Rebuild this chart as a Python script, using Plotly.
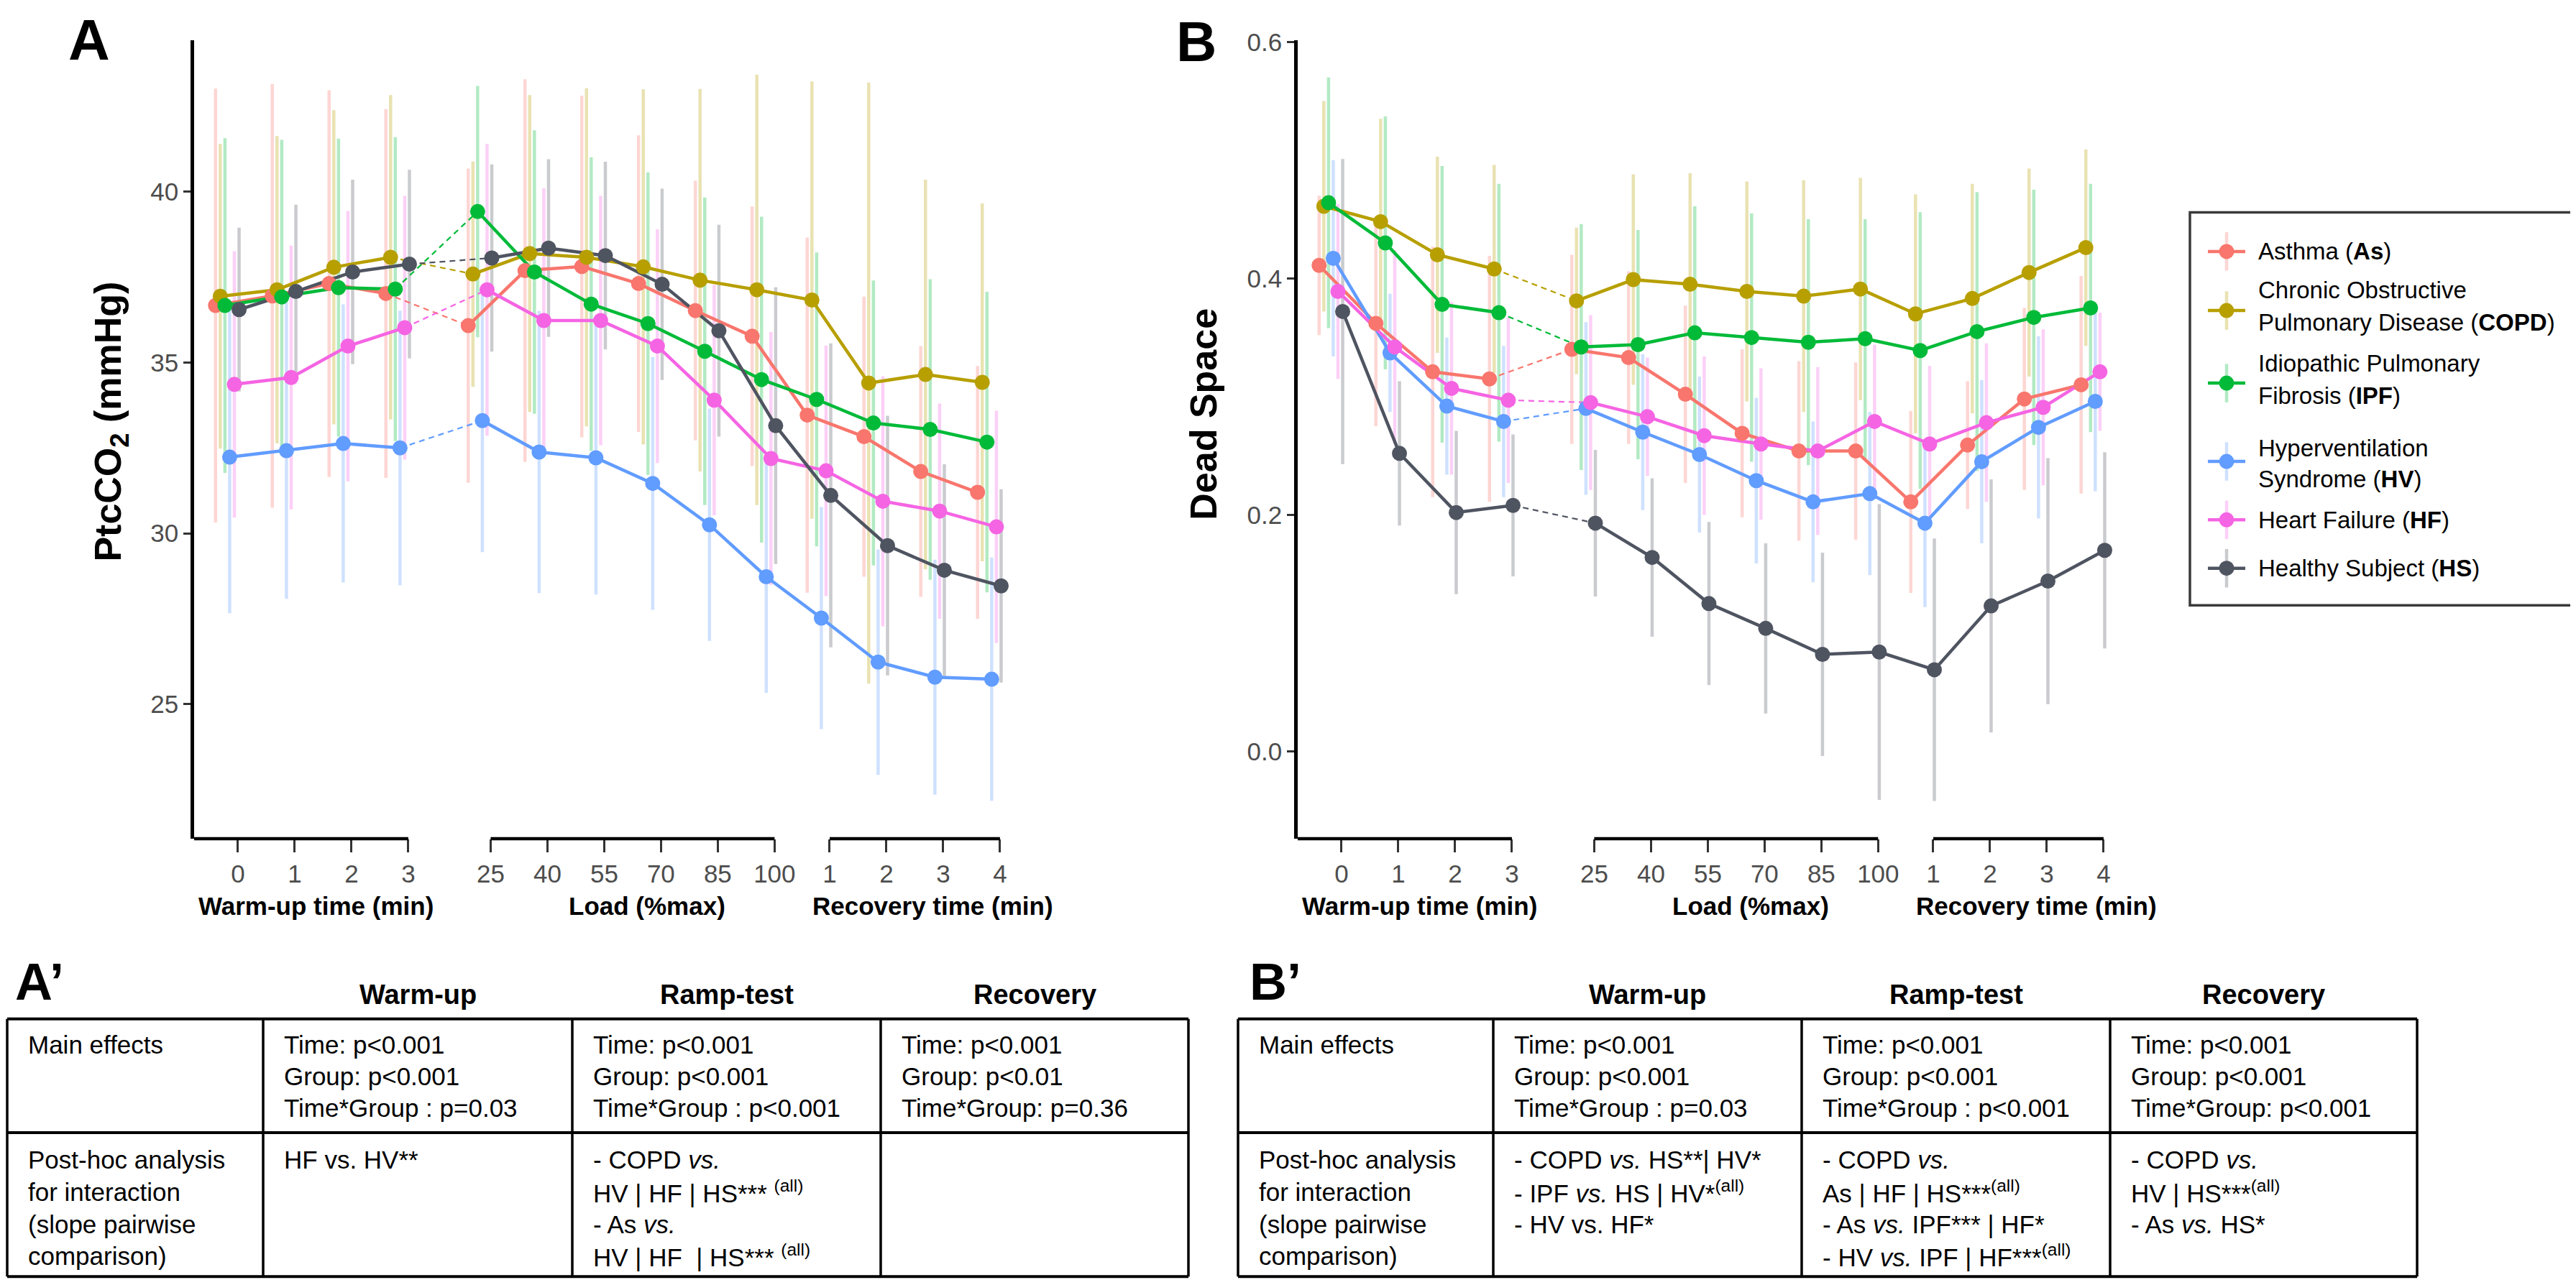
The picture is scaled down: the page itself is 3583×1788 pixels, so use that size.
import plotly.graph_objects as go

W, H = 3583, 1788
FONT = "Liberation Sans, Arial, sans-serif"

# ---------------- data ----------------
group_abbr = ["As", "COPD", "IPF", "HV", "HF", "HS"]
group_colors = ["#F8766D", "#B79F00", "#00BA38", "#619CFF", "#F564E3", "#4F5461"]
legend_lines = [
    ["Asthma (<b>As</b>)"],
    ["Chronic Obstructive", "Pulmonary Disease (<b>COPD</b>)"],
    ["Idiopathic Pulmonary", "Fibrosis (<b>IPF</b>)"],
    ["Hyperventilation", "Syndrome (<b>HV</b>)"],
    ["Heart Failure (<b>HF</b>)"],
    ["Healthy Subject (<b>HS</b>)"],
]

warm_labels = ["0", "1", "2", "3"]
load_labels = ["25", "40", "55", "70", "85", "100"]
rec_labels = ["1", "2", "3", "4"]
phase_titles = ["Warm-up time (min)", "Load (%max)", "Recovery time (min)"]

# Panel A: PtcCO2 (mmHg), mean and SD (warm-up 0-3, load 25-100, recovery 1-4)
ptc_as = [36.67, 36.95, 37.31, 37.02, 36.08, 37.69, 37.81, 37.31, 36.52, 35.77, 33.46, 32.83, 31.81, 31.20]
ptc_copd = [36.94, 37.13, 37.79, 38.08, 37.59, 38.19, 38.08, 37.80, 37.41, 37.13, 36.83, 34.40, 34.65, 34.42]
ptc_ipf = [36.67, 36.92, 37.19, 37.15, 39.42, 37.65, 36.71, 36.14, 35.33, 34.50, 33.92, 33.23, 33.04, 32.67]
ptc_hv = [32.23, 32.42, 32.63, 32.50, 33.30, 32.38, 32.21, 31.46, 30.25, 28.73, 27.52, 26.23, 25.79, 25.73]
ptc_hf = [34.36, 34.56, 35.48, 36.02, 37.13, 36.23, 36.23, 35.48, 33.90, 32.19, 31.83, 30.94, 30.65, 30.19]
ptc_hs = [36.55, 37.08, 37.65, 37.88, 38.06, 38.35, 38.13, 37.29, 35.93, 33.15, 31.11, 29.64, 28.92, 28.46]

sd_ptc_as = [6.35, 6.2, 5.66, 5.4, 4.6, 5.6, 5.0, 4.34, 3.8, 3.8, 5.2, 4.1, 3.67, 3.7]
sd_ptc_copd = [4.46, 4.5, 4.6, 4.75, 3.3, 4.64, 4.95, 5.2, 5.6, 6.3, 6.4, 8.8, 5.7, 5.24]
sd_ptc_ipf = [4.9, 4.6, 4.36, 4.45, 3.68, 4.15, 4.3, 4.43, 4.5, 4.77, 4.3, 4.17, 4.4, 4.4]
sd_ptc_hv = [4.57, 4.34, 4.07, 4.02, 3.85, 4.13, 4.0, 3.7, 3.4, 3.4, 3.25, 3.3, 3.44, 3.56]
sd_ptc_hf = [3.9, 3.86, 3.96, 3.86, 4.27, 3.87, 3.65, 3.42, 3.37, 3.7, 3.67, 3.66, 3.15, 3.4]
sd_ptc_hs = [2.4, 2.54, 2.7, 2.76, 2.74, 2.6, 2.75, 2.8, 3.1, 4.05, 4.45, 3.8, 3.1, 2.83]

# Panel B: Dead space, mean and SD
ds_as = [0.411, 0.362, 0.321, 0.315, 0.340, 0.333, 0.302, 0.269, 0.254, 0.254, 0.211, 0.259, 0.298, 0.310]
ds_copd = [0.461, 0.448, 0.420, 0.408, 0.381, 0.399, 0.395, 0.389, 0.385, 0.391, 0.370, 0.383, 0.405, 0.426]
ds_ipf = [0.464, 0.430, 0.378, 0.371, 0.342, 0.344, 0.354, 0.350, 0.346, 0.349, 0.339, 0.355, 0.367, 0.375]
ds_hv = [0.417, 0.337, 0.292, 0.279, 0.290, 0.270, 0.251, 0.229, 0.211, 0.218, 0.193, 0.245, 0.274, 0.296]
ds_hf = [0.389, 0.342, 0.307, 0.297, 0.295, 0.283, 0.267, 0.260, 0.254, 0.279, 0.260, 0.278, 0.291, 0.321]
ds_hs = [0.372, 0.252, 0.202, 0.208, 0.193, 0.164, 0.125, 0.104, 0.082, 0.084, 0.069, 0.123, 0.144, 0.170]

sd_ds_as = [0.059, 0.087, 0.106, 0.104, 0.08, 0.073, 0.075, 0.071, 0.076, 0.075, 0.077, 0.054, 0.077, 0.092]
sd_ds_copd = [0.089, 0.087, 0.083, 0.088, 0.062, 0.089, 0.094, 0.093, 0.098, 0.094, 0.101, 0.097, 0.088, 0.083]
sd_ds_ipf = [0.106, 0.107, 0.117, 0.109, 0.104, 0.097, 0.107, 0.105, 0.104, 0.101, 0.117, 0.118, 0.108, 0.105]
sd_ds_hv = [0.083, 0.05, 0.058, 0.064, 0.073, 0.066, 0.066, 0.07, 0.068, 0.069, 0.071, 0.069, 0.077, 0.076]
sd_ds_hf = [0.074, 0.082, 0.073, 0.07, 0.074, 0.05, 0.067, 0.064, 0.071, 0.065, 0.066, 0.067, 0.066, 0.05]
sd_ds_hs = [0.129, 0.061, 0.069, 0.06, 0.062, 0.067, 0.069, 0.072, 0.086, 0.125, 0.111, 0.107, 0.104, 0.083]

ptc_means = [ptc_as, ptc_copd, ptc_ipf, ptc_hv, ptc_hf, ptc_hs]
ptc_sds = [sd_ptc_as, sd_ptc_copd, sd_ptc_ipf, sd_ptc_hv, sd_ptc_hf, sd_ptc_hs]
ds_means = [ds_as, ds_copd, ds_ipf, ds_hv, ds_hf, ds_hs]
ds_sds = [sd_ds_as, sd_ds_copd, sd_ds_ipf, sd_ds_hv, sd_ds_hf, sd_ds_hs]

ptc_ticks = [25, 30, 35, 40]
ds_ticks = [0.0, 0.2, 0.4, 0.6]

# Tables
table_headers = ["Warm-up", "Ramp-test", "Recovery"]
row_labels = [["Main effects"], ["Post-hoc analysis", "for interaction", "(slope pairwise", "comparison)"]]
tableA_main = [
    ["Time: p&lt;0.001", "Group: p&lt;0.001", "Time*Group : p=0.03"],
    ["Time: p&lt;0.001", "Group: p&lt;0.001", "Time*Group : p&lt;0.001"],
    ["Time: p&lt;0.001", "Group: p&lt;0.01", "Time*Group: p=0.36"],
]
tableA_post = [
    ["HF vs. HV**"],
    ["- COPD <i>vs.</i>", "HV | HF | HS*** <sup>(all)</sup>", "- As <i>vs.</i>", "HV | HF  | HS*** <sup>(all)</sup>"],
    [],
]
tableB_main = [
    ["Time: p&lt;0.001", "Group: p&lt;0.001", "Time*Group : p=0.03"],
    ["Time: p&lt;0.001", "Group: p&lt;0.001", "Time*Group : p&lt;0.001"],
    ["Time: p&lt;0.001", "Group: p&lt;0.001", "Time*Group: p&lt;0.001"],
]
tableB_post = [
    ["- COPD <i>vs.</i> HS**| HV*", "- IPF <i>vs.</i> HS | HV*<sup>(all)</sup>", "- HV vs. HF*"],
    ["- COPD <i>vs.</i>", "As | HF | HS***<sup>(all)</sup>", "- As <i>vs.</i> IPF*** | HF*", "- HV <i>vs.</i> IPF | HF***<sup>(all)</sup>"],
    ["- COPD <i>vs.</i>", "HV | HS***<sup>(all)</sup>", "- As <i>vs.</i> HS*"],
]

# ---------------- layout constants (pixels) ----------------
PHASE_START = [0.0, 4.45, 10.42]
DODGE = 0.083
SHIFT = 0.02
XRANGE = [-0.772, 13.70]
PANEL_TOP, PANEL_BOT = 31, 1153
A_LEFT, A_RIGHT = 262, 1405
B_LEFT, B_RIGHT = 1797, 2940
PTC_RANGE = [21.06, 44.44]
DS_RANGE = [-0.0739, 0.6016]
XTITLE_POS = [1.37, 7.2, 12.24]


def fx(p):
    return p / W


def fy(p):
    return 1 - p / H


def rgba(hexc, a):
    h = hexc.lstrip("#")
    return "rgba(%d,%d,%d,%.2f)" % (int(h[0:2], 16), int(h[2:4], 16), int(h[4:6], 16), a)


pos_warm = [PHASE_START[0] + k for k in range(len(warm_labels))]
pos_load = [PHASE_START[1] + k for k in range(len(load_labels))]
pos_rec = [PHASE_START[2] + k for k in range(len(rec_labels))]
positions = pos_warm + pos_load + pos_rec
tick_text = warm_labels + load_labels + rec_labels
nW = len(warm_labels)

fig = go.Figure()

panels = [("x", "y", ptc_means, ptc_sds), ("x2", "y2", ds_means, ds_sds)]
for xa, ya, means_all, sds_all in panels:
    xs_all = []
    for i in range(len(group_abbr)):
        off = (i - 5) * DODGE + SHIFT
        xs_all.append([p + off for p in positions])
    # error bars
    for i, col in enumerate(group_colors):
        fig.add_trace(go.Scatter(
            x=xs_all[i], y=means_all[i], mode="markers", xaxis=xa, yaxis=ya,
            marker=dict(size=2, color="rgba(0,0,0,0)"),
            error_y=dict(type="data", array=sds_all[i], color=rgba(col, 0.3), thickness=4.5, width=0),
            showlegend=False, hoverinfo="skip"))
    # dashed connectors warm-up -> load
    for i, col in enumerate(group_colors):
        fig.add_trace(go.Scatter(
            x=[xs_all[i][nW - 1], xs_all[i][nW]], y=[means_all[i][nW - 1], means_all[i][nW]],
            mode="lines", xaxis=xa, yaxis=ya, line=dict(color=col, width=2.2, dash="8px,6px"),
            showlegend=False, hoverinfo="skip"))
    # solid lines
    for i, col in enumerate(group_colors):
        fig.add_trace(go.Scatter(
            x=xs_all[i][:nW], y=means_all[i][:nW], mode="lines", xaxis=xa, yaxis=ya,
            line=dict(color=col, width=4.5), showlegend=False, hoverinfo="skip"))
        fig.add_trace(go.Scatter(
            x=xs_all[i][nW:], y=means_all[i][nW:], mode="lines", xaxis=xa, yaxis=ya,
            line=dict(color=col, width=4.5), showlegend=False, hoverinfo="skip"))
    # points
    for i, col in enumerate(group_colors):
        fig.add_trace(go.Scatter(
            x=xs_all[i], y=means_all[i], mode="markers", xaxis=xa, yaxis=ya,
            marker=dict(size=21, color=col), showlegend=False, name=group_abbr[i]))

# ---------------- legend (custom, drawn on an overlay pixel axis) ----------------
LEG_BOX = (3038, 273, 3578, 825)
LEG_KEY_X = 3089
LEG_TEXT_X = 3131
LEG_KEY_Y = [328, 411, 513, 623, 705, 773]
LEG_LINE_Y = [[328], [382, 428], [485, 531], [604, 648], [705], [773]]
for i, col in enumerate(group_colors):
    cy = LEG_KEY_Y[i]
    fig.add_trace(go.Scatter(x=[LEG_KEY_X, LEG_KEY_X], y=[cy - 27, cy + 27], mode="lines",
                             xaxis="x3", yaxis="y3", line=dict(color=rgba(col, 0.3), width=4.5),
                             showlegend=False, hoverinfo="skip"))
    fig.add_trace(go.Scatter(x=[LEG_KEY_X - 26, LEG_KEY_X + 26], y=[cy, cy], mode="lines",
                             xaxis="x3", yaxis="y3", line=dict(color=col, width=4.5),
                             showlegend=False, hoverinfo="skip"))
    fig.add_trace(go.Scatter(x=[LEG_KEY_X], y=[cy], mode="markers", xaxis="x3", yaxis="y3",
                             marker=dict(size=21, color=col), showlegend=False, hoverinfo="skip"))

shapes = []
annotations = []

shapes.append(dict(type="rect", xref="paper", yref="paper",
                   x0=fx(LEG_BOX[0]), x1=fx(LEG_BOX[2]), y0=fy(LEG_BOX[3]), y1=fy(LEG_BOX[1]),
                   line=dict(color="#3a3a3a", width=3.5), fillcolor="rgba(0,0,0,0)"))
for i, lines in enumerate(legend_lines):
    for t, yy in zip(lines, LEG_LINE_Y[i]):
        annotations.append(dict(text=t, xref="paper", yref="paper", x=fx(LEG_TEXT_X), y=fy(yy),
                                xanchor="left", yanchor="middle", showarrow=False,
                                font=dict(family=FONT, size=33, color="black")))

# ---------------- broken x-axis segments and titles ----------------
for xa, ya in [("x", "y"), ("x2", "y2")]:
    segs = [(XRANGE[0], pos_warm[-1]), (pos_load[0], pos_load[-1]), (pos_rec[0], pos_rec[-1])]
    for x0, x1 in segs:
        shapes.append(dict(type="line", xref=xa, yref=ya + " domain", x0=x0, x1=x1, y0=0, y1=0,
                           line=dict(color="black", width=4.5)))
    for t, xp in zip(phase_titles, XTITLE_POS):
        annotations.append(dict(text="<b>%s</b>" % t, xref=xa, yref="paper", x=xp, y=fy(1247),
                                xanchor="center", yanchor="middle", showarrow=False,
                                font=dict(family=FONT, size=35, color="black")))

# y titles
annotations.append(dict(text="<b>PtcCO<sub>2</sub> (mmHg)</b>", xref="paper", yref="paper",
                        x=fx(146), y=fy(567), textangle=-90, showarrow=False,
                        xanchor="center", yanchor="middle", font=dict(family=FONT, size=52, color="black")))
annotations.append(dict(text="<b>Dead Space</b>", xref="paper", yref="paper",
                        x=fx(1666), y=fy(557), textangle=-90, showarrow=False,
                        xanchor="center", yanchor="middle", font=dict(family=FONT, size=52, color="black")))

# panel letters
for t, xx, yy, sz in [("A", 116, 31, 80), ("B", 1656, 33, 78), ("A’", 11, 1354, 72), ("B’", 1728, 1354, 72)]:
    annotations.append(dict(text="<b>%s</b>" % t, xref="paper", yref="paper", x=fx(xx), y=fy(yy),
                            xanchor="center" if t in ("A", "B") else "left", yanchor="middle",
                            showarrow=False, font=dict(family=FONT, size=sz, color="black")))

# ---------------- tables ----------------
TABLES = [
    dict(cols=[2, 358, 788, 1217, 1645], main=tableA_main, post=tableA_post),
    dict(cols=[1714, 2069, 2498, 2927, 3354], main=tableB_main, post=tableB_post),
]
T_TOP, T_MID, T_BOT = 1406, 1566, 1768
HEADER_Y = 1372
MAIN_Y = [1442, 1487, 1531]
POST_Y = [1604, 1649, 1695, 1739]
PAD = 27
for tb in TABLES:
    c = tb["cols"]
    for yy in (T_TOP, T_MID, T_BOT):
        shapes.append(dict(type="line", xref="paper", yref="paper", x0=fx(c[0]), x1=fx(c[-1]),
                           y0=fy(yy), y1=fy(yy), line=dict(color="black", width=4)))
    for xx in c:
        shapes.append(dict(type="line", xref="paper", yref="paper", x0=fx(xx), x1=fx(xx),
                           y0=fy(T_TOP), y1=fy(T_BOT), line=dict(color="black", width=3.5)))
    for k, h in enumerate(table_headers):
        annotations.append(dict(text="<b>%s</b>" % h, xref="paper", yref="paper",
                                x=fx((c[k + 1] + c[k + 2]) / 2), y=fy(HEADER_Y), xanchor="center",
                                yanchor="middle", showarrow=False,
                                font=dict(family=FONT, size=38, color="black")))
    cells = [(0, row_labels[0], MAIN_Y), (0, row_labels[1], POST_Y)]
    for k in range(3):
        cells.append((k + 1, tb["main"][k], MAIN_Y))
        cells.append((k + 1, tb["post"][k], POST_Y))
    for ci, lines, ys in cells:
        for t, yy in zip(lines, ys):
            annotations.append(dict(text=t, xref="paper", yref="paper", x=fx(c[ci] + PAD), y=fy(yy),
                                    xanchor="left", yanchor="middle", showarrow=False,
                                    font=dict(family=FONT, size=35, color="black")))

# ---------------- axes ----------------
xcommon = dict(range=XRANGE, tickmode="array", tickvals=positions, ticktext=tick_text,
               ticks="outside", ticklen=18, tickwidth=3, tickcolor="#333333",
               showline=False, showgrid=False, zeroline=False,
               tickfont=dict(family=FONT, size=35, color="#4D4D4D"), fixedrange=True)
ycommon = dict(showline=True, linewidth=4.5, linecolor="black", ticks="outside", ticklen=10,
               tickwidth=3, tickcolor="#333333", showgrid=False, zeroline=False,
               tickfont=dict(family=FONT, size=35, color="#4D4D4D"), fixedrange=True)

fig.update_layout(
    width=W, height=H, autosize=False,
    margin=dict(l=0, r=0, t=0, b=0),
    paper_bgcolor="white", plot_bgcolor="rgba(0,0,0,0)",
    showlegend=False,
    font=dict(family=FONT),
    xaxis=dict(domain=[fx(A_LEFT), fx(A_RIGHT)], anchor="y", **xcommon),
    yaxis=dict(domain=[fy(PANEL_BOT), fy(PANEL_TOP)], anchor="x", range=PTC_RANGE,
               tickvals=ptc_ticks, **ycommon),
    xaxis2=dict(domain=[fx(B_LEFT), fx(B_RIGHT)], anchor="y2", **xcommon),
    yaxis2=dict(domain=[fy(PANEL_BOT), fy(PANEL_TOP)], anchor="x2", range=DS_RANGE,
                tickvals=ds_ticks, tickformat=".1f", **ycommon),
    xaxis3=dict(domain=[0, 1], range=[0, W], visible=False, fixedrange=True, anchor="y3"),
    yaxis3=dict(domain=[0, 1], range=[H, 0], visible=False, fixedrange=True, anchor="x3"),
    shapes=shapes,
    annotations=annotations,
)

fig.write_html("out.html")
